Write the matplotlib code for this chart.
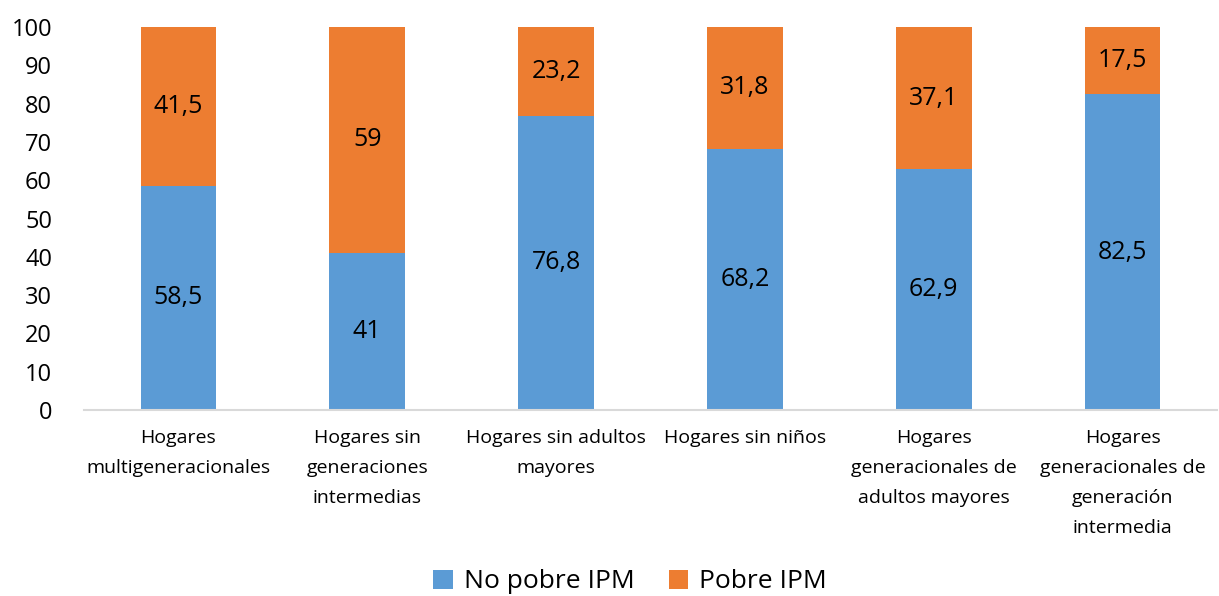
import matplotlib.pyplot as plt
import numpy as np

plt.rcParams['font.family'] = ['Open Sans', 'DejaVu Sans']

categorias = ['Hogares\nmultigeneracionales',
              'Hogares sin\ngeneraciones\nintermedias',
              'Hogares sin adultos\nmayores',
              'Hogares sin niños',
              'Hogares\ngeneracionales de\nadultos mayores',
              'Hogares\ngeneracionales de\ngeneración\nintermedia']
no_pobre = [58.5, 41, 76.8, 68.2, 62.9, 82.5]
pobre = [41.5, 59, 23.2, 31.8, 37.1, 17.5]
etiquetas_no_pobre = ['58,5', '41', '76,8', '68,2', '62,9', '82,5']
etiquetas_pobre = ['41,5', '59', '23,2', '31,8', '37,1', '17,5']

azul = '#5B9BD5'
naranja = '#ED7D31'

fig = plt.figure(figsize=(12.19, 5.96), dpi=100)
ax = fig.add_axes([84 / 1219, 1 - 410 / 596, 1133 / 1219, 383 / 596])

x = np.arange(len(categorias))
b1 = ax.bar(x, no_pobre, width=0.4, color=azul, label='No pobre IPM')
b2 = ax.bar(x, pobre, width=0.4, bottom=no_pobre, color=naranja, label='Pobre IPM')

ax.bar_label(b1, labels=etiquetas_no_pobre, label_type='center', fontsize=18)
ax.bar_label(b2, labels=etiquetas_pobre, label_type='center', fontsize=18)

ax.set_xlim(-0.5, 5.5)
ax.set_ylim(0, 100)
ax.set_yticks(range(0, 101, 10))
ax.set_xticks(x)
ax.set_xticklabels(categorias, fontsize=14)
plt.setp(ax.get_xticklabels(), linespacing=1.85)
ax.tick_params(axis='y', labelsize=17, length=0, pad=23)
ax.tick_params(axis='x', length=0, pad=14)
for s in ['top', 'right', 'left']:
    ax.spines[s].set_visible(False)
ax.spines['bottom'].set_color('#D9D9D9')
ax.spines['bottom'].set_linewidth(1.5)

fig.legend(loc='center', bbox_to_anchor=(630 / 1219, 1 - 582 / 596), ncol=2, frameon=False,
           fontsize=19, handlelength=0.75, handleheight=0.75, columnspacing=1.3,
           handletextpad=0.4)

fig.savefig('out.png', dpi=100)
